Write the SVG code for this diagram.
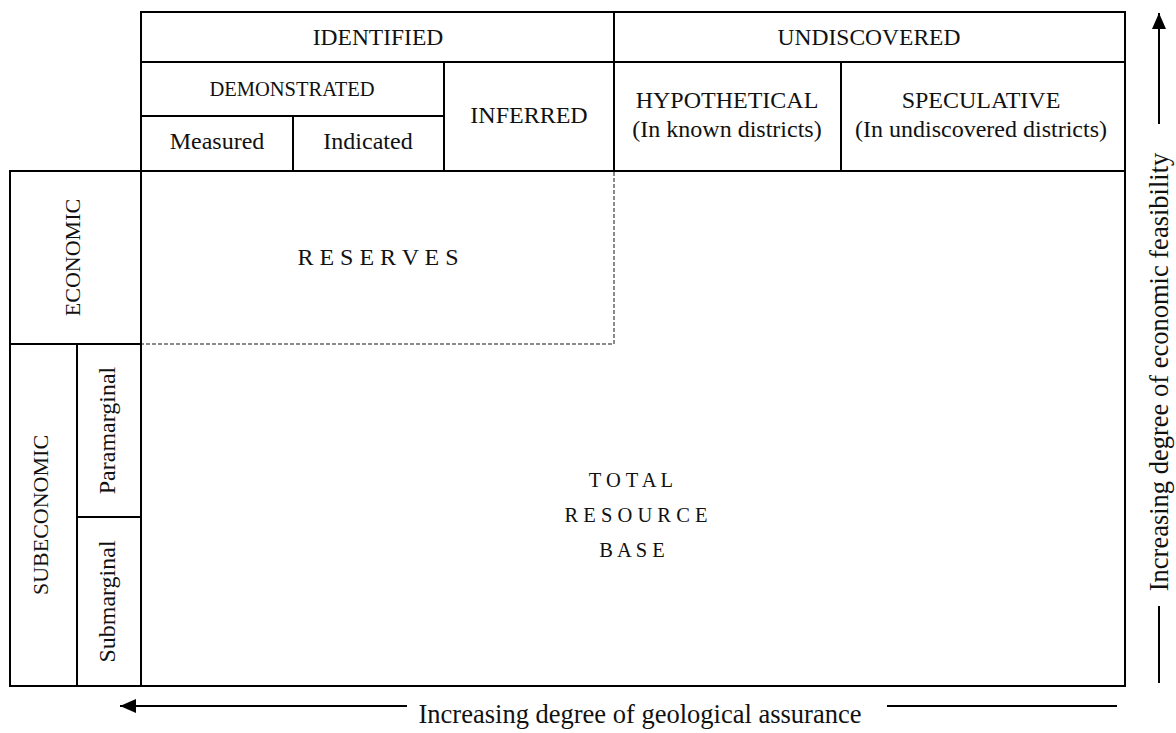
<svg xmlns="http://www.w3.org/2000/svg" width="1176" height="733" viewBox="0 0 1176 733">
<style>
  .b { fill: none; stroke: #000; stroke-width: 2; }
  .t { font-family: "Liberation Serif", "Times New Roman", serif; fill: #111; text-anchor: middle; }
  .h { font-size: 23.5px; }
  .s { font-size: 24px; }
  .v { font-size: 22px; }
  .big { font-size: 26.5px; }
  .c { font-size: 20.5px; }
  .d { fill: none; stroke: #666; stroke-width: 1.5; stroke-dasharray: 4 2; }
  .ax { stroke: #000; stroke-width: 2; }
</style>
<defs>
  <marker id="ah" markerWidth="16" markerHeight="14" refX="16" refY="7" orient="auto" markerUnits="userSpaceOnUse" viewBox="0 0 16 14">
    <path d="M0,0 L16,7 L0,14 z" fill="#000"/>
  </marker>
</defs>
<rect width="1176" height="733" fill="#fff"/>

<g id="header">
  <rect class="b" x="141" y="12" width="984" height="159"/>
  <line class="b" x1="141" y1="62" x2="1125" y2="62"/>
  <line class="b" x1="614" y1="12" x2="614" y2="171"/>
  <line class="b" x1="444" y1="62" x2="444" y2="171"/>
  <line class="b" x1="141" y1="116" x2="444" y2="116"/>
  <line class="b" x1="293" y1="116" x2="293" y2="171"/>
  <line class="b" x1="841" y1="62" x2="841" y2="171"/>
</g>
<g id="identified"><text class="t h" x="378" y="45">IDENTIFIED</text></g>
<g id="undiscovered"><text class="t h" x="869" y="45">UNDISCOVERED</text></g>
<g id="demonstrated"><text class="t c" x="292" y="96">DEMONSTRATED</text></g>
<g id="measured"><text class="t s" x="217" y="149">Measured</text></g>
<g id="indicated"><text class="t s" x="368" y="149">Indicated</text></g>
<g id="inferred"><text class="t s" x="529" y="123">INFERRED</text></g>
<g id="hypothetical"><text class="t s" x="727" y="108">HYPOTHETICAL</text><text class="t s" x="727" y="137">(In known districts)</text></g>
<g id="speculative"><text class="t s" x="981" y="108">SPECULATIVE</text><text class="t s" x="981" y="137">(In undiscovered districts)</text></g>

<g id="main">
  <rect class="b" x="10" y="171" width="1115" height="515"/>
  <line class="b" x1="141" y1="171" x2="141" y2="686"/>
  <line class="b" x1="10" y1="344" x2="141" y2="344"/>
  <line class="b" x1="77" y1="344" x2="77" y2="686"/>
  <line class="b" x1="77" y1="517" x2="141" y2="517"/>
</g>
<g id="economic"><text class="t v" transform="translate(80,257.5) rotate(-90)">ECONOMIC</text></g>
<g id="subeconomic"><text class="t v" transform="translate(48,515) rotate(-90)">SUBECONOMIC</text></g>
<g id="paramarginal"><text class="t s" transform="translate(115,430.5) rotate(-90)">Paramarginal</text></g>
<g id="submarginal"><text class="t s" transform="translate(115,601.5) rotate(-90)">Submarginal</text></g>
<g id="reserves">
  <path class="d" d="M614,172 V344 H142"/>
  <text class="t s" x="378" y="265">R E S E R V E S</text>
</g>
<g id="total">
  <text class="t c" x="631" y="487">T O T A L</text>
  <text class="t c" x="636" y="522">R E S O U R C E</text>
  <text class="t c" x="632" y="557">B A S E</text>
</g>

<g id="connectors">
  <line class="ax" x1="407" y1="706" x2="120" y2="706" marker-end="url(#ah)"/>
  <line class="ax" x1="887" y1="706" x2="1117" y2="706"/>
  <line class="ax" x1="1159" y1="124" x2="1159" y2="13" marker-end="url(#ah)"/>
  <line class="ax" x1="1159" y1="606" x2="1159" y2="683"/>
</g>
<g id="axis-labels">
  <text class="t big" x="640" y="723">Increasing degree of geological assurance</text>
  <text class="t big" transform="translate(1168,372) rotate(-90)">Increasing degree of economic feasibility</text>
</g>
</svg>
